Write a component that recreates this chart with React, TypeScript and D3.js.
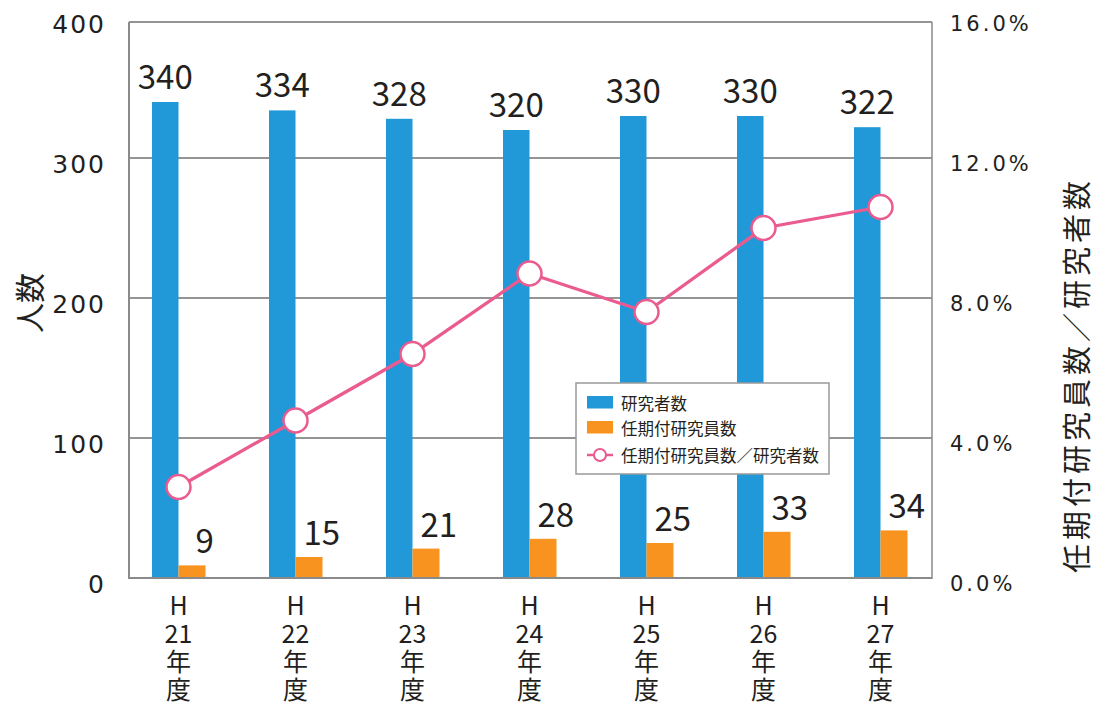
import React from "react";
import * as d3 from "d3";

const categories = ["21", "22", "23", "24", "25", "26", "27"];
const researchers = [340, 334, 328, 320, 330, 330, 322];
const fixedTerm = [9, 15, 21, 28, 25, 33, 34];
const ratioPct = [2.6, 4.5, 6.4, 8.7, 7.6, 10.0, 10.6];
const leftTicks = [0, 100, 200, 300, 400];
const rightTicks = [0, 4, 8, 12, 16];

const W = 1093;
const H = 703;
const plotLeft = 129;
const plotRight = 932;
const frameTop = 22;

const BLUE = "#2198d7";
const ORANGE = "#f7931e";
const PINK = "#ea5b8f";
const TEXT = "#231f20";
const CJK = "'Noto Sans CJK JP', 'Noto Sans', sans-serif";
const NUMF = "'DejaVu Sans', sans-serif";

export default function App() {
  const x = d3.scaleBand<string>().domain(categories).range([120, 939]);
  const yL = d3.scaleLinear().domain([0, 400]).range([578, 18]);
  const yR = d3.scaleLinear().domain([0, 16]).range([578, 18]);
  const barW = 26.5;
  const cx = (c: string) => (x(c) as number) + x.bandwidth() / 2;

  const line = d3
    .line<number>()
    .x((_, i) => cx(categories[i]))
    .y((d) => yR(d));

  return (
    <svg
      width={W}
      height={H}
      style={{ position: "fixed", left: 0, top: 0, background: "#fff" }}
    >
      {leftTicks.slice(1, 4).map((t) => (
        <line
          key={t}
          x1={plotLeft}
          x2={plotRight}
          y1={yL(t)}
          y2={yL(t)}
          stroke="#2a2a2a"
          strokeWidth={1.2}
        />
      ))}
      <line x1={plotLeft} x2={plotRight} y1={frameTop} y2={frameTop} stroke="#2a2a2a" strokeWidth={1.2} />

      {categories.map((c, i) => (
        <g key={c}>
          <rect x={cx(c) - barW} y={yL(researchers[i])} width={barW} height={yL(0) - yL(researchers[i])} fill={BLUE} />
          <rect x={cx(c)} y={yL(fixedTerm[i])} width={barW + 0.5} height={yL(0) - yL(fixedTerm[i])} fill={ORANGE} />
        </g>
      ))}

      <line x1={plotLeft} x2={plotLeft} y1={frameTop} y2={yL(0) + 1} stroke="#8a8a8a" strokeWidth={2} />
      <line x1={plotRight} x2={plotRight} y1={frameTop} y2={yL(0) + 1} stroke="#8a8a8a" strokeWidth={1.5} />
      <line x1={plotLeft - 1} x2={plotRight} y1={yL(0)} y2={yL(0)} stroke="#8a8a8a" strokeWidth={2} />

      {categories.map((c, i) => (
        <g key={"l" + c} fontFamily={CJK} fontSize={33} fill={TEXT}>
          <text x={cx(c) - barW / 2} y={yL(researchers[i]) - 13} textAnchor="middle">
            {researchers[i]}
          </text>
          <text x={cx(c) + barW / 2 + 13} y={yL(fixedTerm[i]) - 12} textAnchor="middle">
            {fixedTerm[i]}
          </text>
        </g>
      ))}

      <path d={line(ratioPct) as string} fill="none" stroke={PINK} strokeWidth={3.3} />
      {ratioPct.map((v, i) => (
        <circle key={i} cx={cx(categories[i])} cy={yR(v)} r={12} fill="#fff" stroke={PINK} strokeWidth={2.5} />
      ))}

      {leftTicks.map((t) => (
        <text
          key={t}
          x={106}
          y={yL(t) + 6}
          textAnchor="end"
          dominantBaseline="central"
          fontFamily={NUMF}
          fontSize={25}
          letterSpacing={2}
          fill={TEXT}
        >
          {t}
        </text>
      ))}
      {rightTicks.map((t) => (
        <text
          key={t}
          x={950}
          y={yR(t) + 6}
          textAnchor="start"
          dominantBaseline="central"
          fontFamily={NUMF}
          fontSize={21}
          letterSpacing={3}
          fill={TEXT}
        >
          {t.toFixed(1) + "%"}
        </text>
      ))}

      {categories.map((c) => (
        <g key={"x" + c} fontFamily={CJK} fontSize={25} fill={TEXT} textAnchor="middle">
          <text x={cx(c)} y={604} dominantBaseline="central">H</text>
          <text x={cx(c)} y={632} dominantBaseline="central">{c}</text>
          <text x={cx(c)} y={660} dominantBaseline="central">年</text>
          <text x={cx(c)} y={688} dominantBaseline="central">度</text>
        </g>
      ))}

      <text
        transform="translate(28,303) rotate(-90)"
        textAnchor="middle"
        dominantBaseline="central"
        fontFamily={CJK}
        fontSize={30}
        fill={TEXT}
      >
        人数
      </text>
      <text
        transform="translate(1075,375) rotate(-90)"
        textAnchor="middle"
        dominantBaseline="central"
        fontFamily={CJK}
        fontSize={29}
        letterSpacing={4}
        fill={TEXT}
      >
        任期付研究員数／研究者数
      </text>

      <g>
        <rect x={576} y={383} width={253} height={91} fill="#fff" stroke="#999" strokeWidth={1.5} />
        <rect x={587} y={396} width={26} height={12.5} fill={BLUE} />
        <rect x={587} y={421} width={26} height={12.5} fill={ORANGE} />
        <line x1={587} x2={613} y1={455} y2={455} stroke={PINK} strokeWidth={2.5} />
        <circle cx={600} cy={455} r={6} fill="#fff" stroke={PINK} strokeWidth={2} />
        <g fontFamily={CJK} fontSize={16.5} fill={TEXT} dominantBaseline="central">
          <text x={621} y={403}>研究者数</text>
          <text x={621} y={428}>任期付研究員数</text>
          <text x={621} y={455}>任期付研究員数／研究者数</text>
        </g>
      </g>
    </svg>
  );
}
